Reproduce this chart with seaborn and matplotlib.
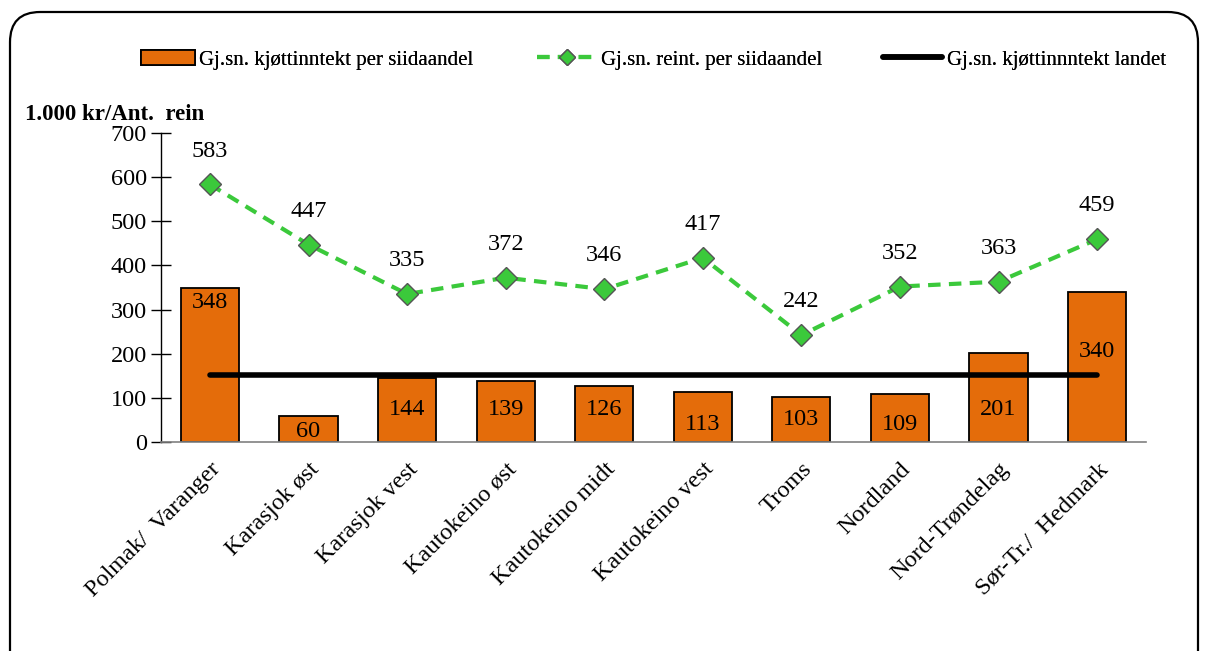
import numpy as np
import pandas as pd
import seaborn as sns
import matplotlib.pyplot as plt
from matplotlib.patches import FancyBboxPatch
from matplotlib.lines import Line2D
from matplotlib.patches import Patch

# data
districts = ['Polmak/  Varanger', 'Karasjok øst', 'Karasjok vest', 'Kautokeino øst',
             'Kautokeino midt', 'Kautokeino vest', 'Troms', 'Nordland',
             'Nord-Trøndelag', 'Sør-Tr./  Hedmark']
kjott_inntekt = [348, 60, 144, 139, 126, 113, 103, 109, 201, 340]
reintall = [583, 447, 335, 372, 346, 417, 242, 352, 363, 459]
landet = [152] * 10

label_names = ['Gj.sn. kjøttinntekt per siidaandel',
               'Gj.sn. reint. per siidaandel',
               'Gj.sn. kjøttinnntekt landet']

# where the bar labels sit (the original has them nudged by hand)
bar_label_y = [315, 23, 73, 73, 73, 39, 50, 39, 73, 204]

df = pd.DataFrame({'omr': districts, 'kjott': kjott_inntekt,
                   'rein': reintall, 'landet': landet})
df['pos'] = np.arange(len(df))

sns.set_style('white')
plt.rcParams['font.family'] = ['Liberation Serif', 'DejaVu Serif']
plt.rcParams['text.color'] = 'black'
plt.rcParams['xtick.color'] = 'black'
plt.rcParams['ytick.color'] = 'black'
plt.rcParams['xtick.labelcolor'] = 'black'
plt.rcParams['ytick.labelcolor'] = 'black'

orange = '#E46C0A'
green = '#3BC93B'
fs = 17.5

fig = plt.figure(figsize=(12.08, 6.51), dpi=100)
ax = fig.add_axes([0.133, 0.321, 0.816, 0.475])

sns.barplot(data=df, x='pos', y='kjott', color=orange, edgecolor='black',
            linewidth=1.3, width=0.59, saturation=1, ax=ax)
ax.plot(df['pos'], df['landet'], color='black', lw=4, solid_capstyle='round', zorder=4)
sns.lineplot(data=df, x='pos', y='rein', color=green, lw=3, linestyle=(0, (3, 2)),
             marker='D', markersize=11, markerfacecolor=green,
             markeredgecolor='#555555', markeredgewidth=1.0, ax=ax, zorder=5)

for i, v in enumerate(kjott_inntekt):
    ax.text(i, bar_label_y[i], str(v), ha='center', va='center', fontsize=fs,
            color='black', zorder=6)
for i, v in enumerate(reintall):
    ax.annotate(str(v), (i, v), xytext=(0, 24), textcoords='offset points',
                ha='center', va='center', fontsize=fs, color='black', zorder=6)

ax.set_xlim(-0.5, len(districts) - 0.5)
ax.set_ylim(0, 700)
ax.set_yticks(range(0, 701, 100))
ax.set_xticks(range(len(districts)))
ax.set_xticklabels(districts, rotation=45, ha='right', rotation_mode='anchor', fontsize=fs)
ax.set_xticks(np.arange(-0.5, len(districts), 1), minor=True)
ax.tick_params(axis='x', which='major', length=0, pad=12)
ax.tick_params(axis='x', which='minor', length=14, width=1, color='#606060', direction='inout')
ax.tick_params(axis='y', direction='inout', length=14, width=1, color='black',
               labelsize=fs, pad=3, left=True)
ax.set_xlabel('')
ax.set_ylabel('')
for s in ['top', 'right']:
    ax.spines[s].set_visible(False)
ax.spines['left'].set_color('black')
ax.spines['bottom'].set_color('#808080')
ax.spines['left'].set_linewidth(1)
ax.spines['bottom'].set_linewidth(1.2)

fig.text(25 / 1208, 1 - 115 / 651, '1.000 kr/Ant.  rein', fontsize=16.5,
         fontweight='bold', va='center', ha='left', color='black')

# three legend entries placed separately, like the spread-out original
handles = [Patch(facecolor=orange, edgecolor='black', linewidth=1.3),
           Line2D([0], [0], color=green, lw=3, linestyle=(0, (3, 2)), marker='D',
                  markersize=8, markerfacecolor=green, markeredgecolor='#555555'),
           Line2D([0], [0], color='black', lw=4)]
leg_x = [141 / 1208, 537 / 1208, 883 / 1208]
leg_len = [2.6, 2.85, 2.85]
for h, name, x0, hl in zip(handles, label_names, leg_x, leg_len):
    lg = fig.legend([h], [name], loc='center left', bbox_to_anchor=(x0, 1 - 60 / 651),
                    frameon=False, fontsize=15, handlelength=hl, handletextpad=0.2,
                    borderpad=0, borderaxespad=0)
    fig.add_artist(lg)

frame = FancyBboxPatch((10 / 1208, -0.05), 1188 / 1208, 1 - 12 / 651 + 0.05,
                       boxstyle='round,pad=0,rounding_size=0.025',
                       transform=fig.transFigure, fill=False, edgecolor='black',
                       linewidth=1.6, mutation_aspect=1208 / 651)
fig.patches.append(frame)

fig.savefig('out.png', dpi=100)
